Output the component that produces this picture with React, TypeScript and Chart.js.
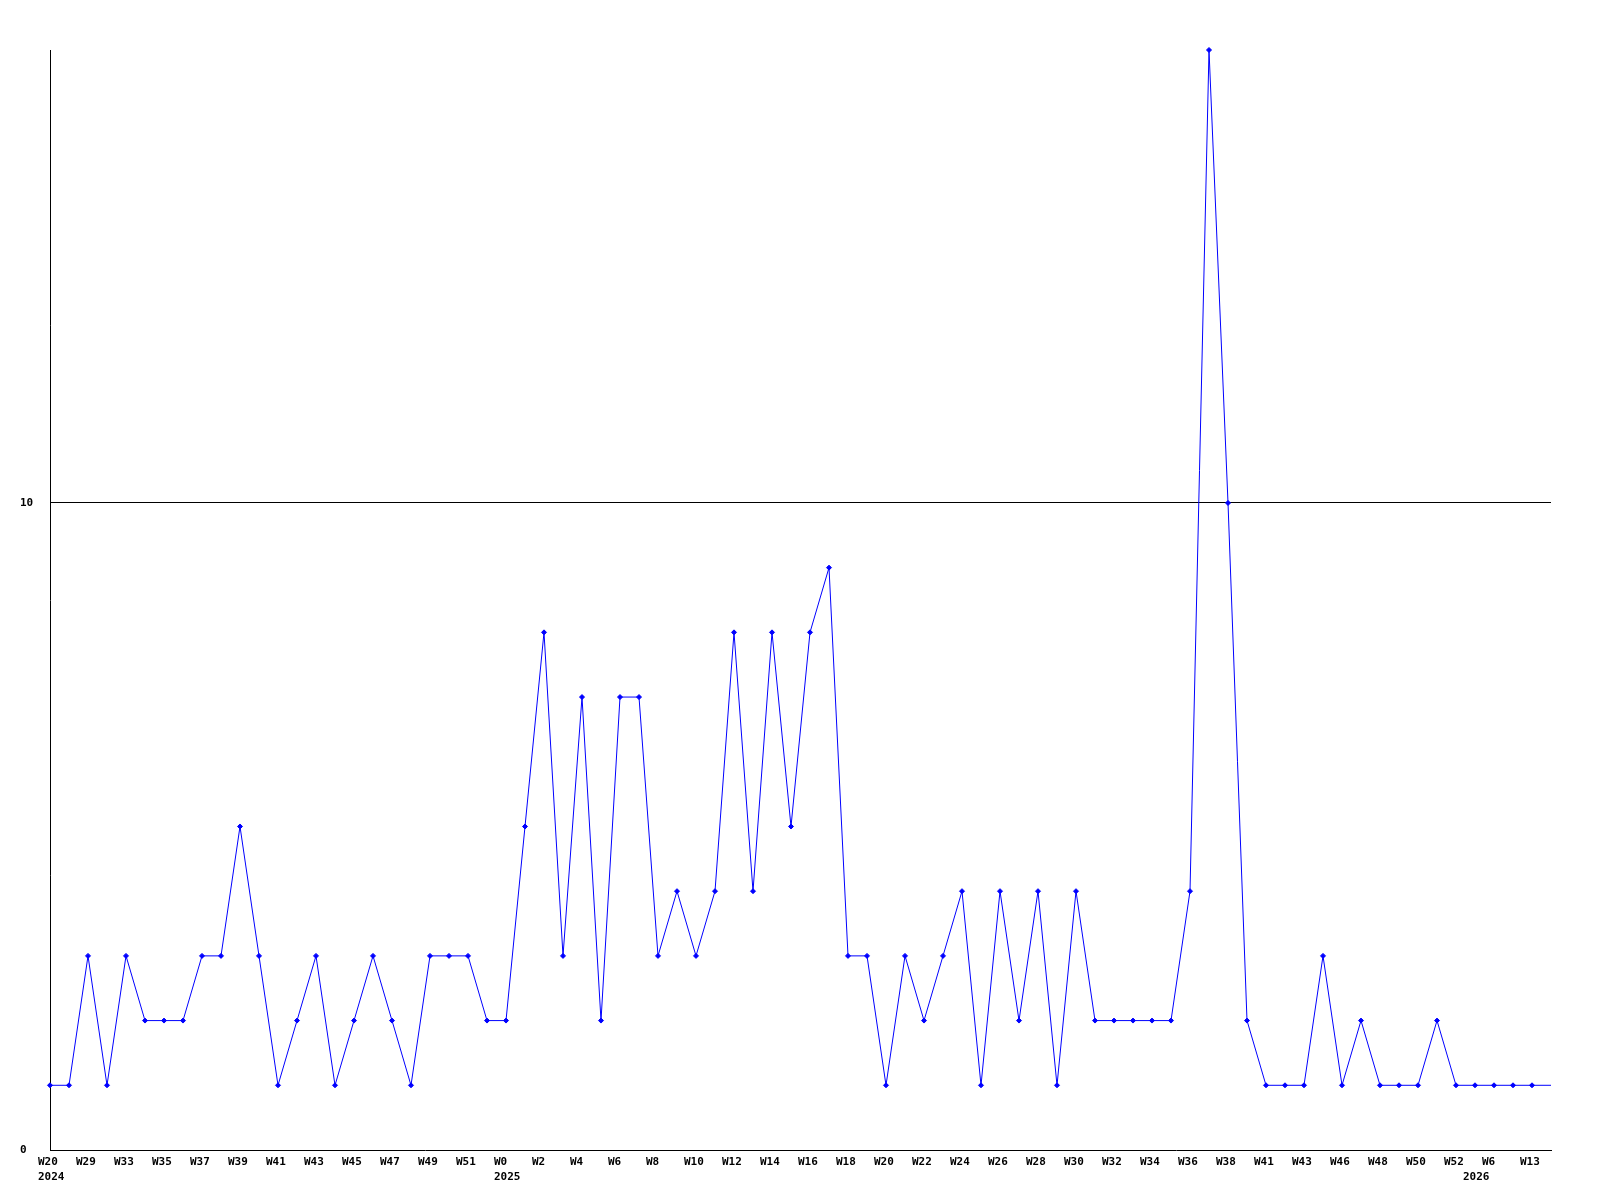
import React, { useEffect, useRef } from "react";
import { Chart, registerables } from "chart.js";

Chart.register(...registerables);

const weeks: string[] = [
  "W20", "W28", "W29", "W31", "W33", "W34", "W35", "W36", "W37", "W38",
  "W39", "W40", "W41", "W42", "W43", "W44", "W45", "W46", "W47", "W48",
  "W49", "W50", "W51", "W52", "W0", "W1", "W2", "W3", "W4", "W5",
  "W6", "W7", "W8", "W9", "W10", "W11", "W12", "W13", "W14", "W15",
  "W16", "W17", "W18", "W19", "W20", "W21", "W22", "W23", "W24", "W25",
  "W26", "W27", "W28", "W29", "W30", "W31", "W32", "W33", "W34", "W35",
  "W36", "W37", "W38", "W40", "W41", "W42", "W43", "W45", "W46", "W47",
  "W48", "W49", "W50", "W51", "W52", "W1", "W6", "W10", "W13", "",
];

const years: string[] = weeks.map((_, i) =>
  i === 0 ? "2024" : i === 24 ? "2025" : i === 75 ? "2026" : ""
);

const values: number[] = [
  1, 1, 3, 1, 3, 2, 2, 2, 3, 3,
  5, 3, 1, 2, 3, 1, 2, 3, 2, 1,
  3, 3, 3, 2, 2, 5, 8, 3, 7, 2,
  7, 7, 3, 4, 3, 4, 8, 4, 8, 5,
  8, 9, 3, 3, 1, 3, 2, 3, 4, 1,
  4, 2, 4, 1, 4, 2, 2, 2, 2, 2,
  4, 17, 10, 2, 1, 1, 1, 3, 1, 2,
  1, 1, 1, 2, 1, 1, 1, 1, 1, 1,
];

const yTicks: number[] = [0, 10];

const FONT = { family: "'DejaVu Sans Mono', monospace", size: 11, weight: "bold" as const, lineHeight: "15px" };

export default function App() {
  const ref = useRef<HTMLCanvasElement | null>(null);

  useEffect(() => {
    if (!ref.current) return;
    const lastIdx = values.length - 1;
    const chart = new Chart(ref.current, {
      type: "line",
      data: {
        labels: weeks,
        datasets: [
          {
            data: values,
            borderColor: "#0000ff",
            backgroundColor: "#0000ff",
            borderWidth: 1,
            pointStyle: "rectRot",
            pointRadius: values.map((_, i) => (i === lastIdx ? 0 : 2.5)),
            pointBorderWidth: 1,
            tension: 0,
            clip: false as any,
          },
        ],
      },
      options: {
        responsive: false,
        animation: false,
        layout: { padding: { left: 20, right: 49, top: 50, bottom: 0 } },
        plugins: { legend: { display: false }, tooltip: { enabled: false } },
        scales: {
          x: {
            offset: false,
            grid: { display: false, drawTicks: false },
            border: { display: true, color: "#000000", width: 1 },
            ticks: {
              autoSkip: false,
              maxRotation: 0,
              minRotation: 0,
              padding: 5,
              align: "start",
              labelOffset: -12,
              color: "#000000",
              font: FONT,
              callback: (_v: any, i: number) => {
                const w = i % 2 === 0 && i < 79 ? weeks[i] : "";
                const y = years[i];
                if (!w && !y) return "";
                return y ? [w, y] : w;
              },
            },
            afterFit: (s: any) => {
              s.height = 50;
            },
          },
          y: {
            min: 0,
            max: 17,
            afterBuildTicks: (s: any) => {
              s.ticks = yTicks.map((v) => ({ value: v }));
            },
            grid: {
              drawTicks: false,
              color: (c: any) => (c.tick && c.tick.value === 10 ? "#000000" : "rgba(0,0,0,0)"),
              lineWidth: 1,
            },
            border: { display: true, color: "#000000", width: 1 },
            ticks: {
              crossAlign: "far",
              padding: 0,
              color: "#000000",
              font: FONT,
            },
            afterFit: (s: any) => {
              s.width = 30;
            },
          },
        },
      },
    });
    return () => chart.destroy();
  }, []);

  return (
    <div style={{ position: "absolute", left: 0, top: 0, width: 1600, height: 1200, background: "#fff" }}>
      <canvas ref={ref} width={1600} height={1200} />
    </div>
  );
}
